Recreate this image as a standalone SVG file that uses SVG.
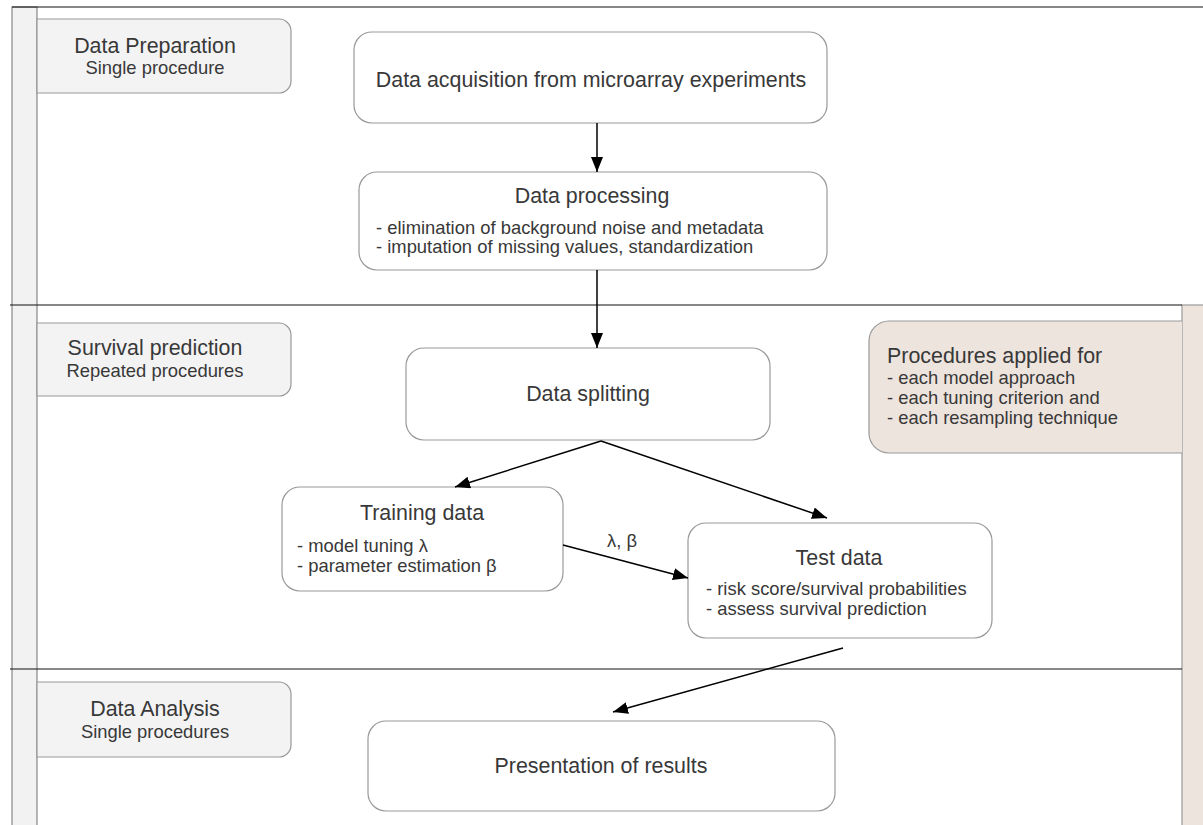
<svg xmlns="http://www.w3.org/2000/svg" width="1203" height="825" viewBox="0 0 1203 825">
<defs>
<style>
text{font-family:"Liberation Sans",Arial,sans-serif;fill:#383838}
.t{font-size:21.4px}
.s{font-size:18.4px}
.box{fill:#fff;stroke:#999;stroke-width:1.2}
.lab{fill:#f3f3f3;stroke:#999;stroke-width:1.2}
.sep{stroke:#111;stroke-width:1.2;fill:none}
.con{stroke:#000;stroke-width:1.5;fill:none}
</style>
<marker id="ah" viewBox="0 0 15 12" refX="15" refY="6" markerWidth="15" markerHeight="12" markerUnits="userSpaceOnUse" orient="auto">
<path d="M0,0 L15,6 L0,12 Z" fill="#000"/>
</marker>
</defs>
<rect width="1203" height="825" fill="#fff"/>
<g id="lanes">
<rect x="12" y="7" width="25" height="830" fill="#f2f2f2" stroke="#888" stroke-width="1.2"/>
<rect x="1182" y="305" width="30" height="530" fill="#ede4de" stroke="#999" stroke-width="1.2"/>
<line class="sep" x1="12" y1="7" x2="1203" y2="7"/>
<line class="sep" x1="10" y1="305" x2="1182" y2="305"/>
<line class="sep" x1="10" y1="669" x2="1182" y2="669"/>
</g>
<g id="label-prep">
<path class="lab" d="M37,19 H279 A12,12 0 0 1 291,31 V81 A12,12 0 0 1 279,93 H37 Z"/>
<text class="t" x="155" y="53" text-anchor="middle">Data Preparation</text>
<text class="s" x="155" y="74" text-anchor="middle">Single procedure</text>
</g>
<g id="label-surv">
<path class="lab" d="M37,323 H279 A12,12 0 0 1 291,335 V384 A12,12 0 0 1 279,396 H37 Z"/>
<text class="t" x="155" y="355" text-anchor="middle">Survival prediction</text>
<text class="s" x="155" y="377" text-anchor="middle">Repeated procedures</text>
</g>
<g id="label-anal">
<path class="lab" d="M37,682 H279 A12,12 0 0 1 291,694 V745 A12,12 0 0 1 279,757 H37 Z"/>
<text class="t" x="155" y="716" text-anchor="middle">Data Analysis</text>
<text class="s" x="155" y="738" text-anchor="middle">Single procedures</text>
</g>
<g id="procedures">
<path d="M1182,321 H889 A20,20 0 0 0 869,341 V433 A20,20 0 0 0 889,453 H1182" fill="#ede4de" stroke="#999" stroke-width="1.2"/>
<text class="t" x="887" y="363">Procedures applied for</text>
<text class="s" x="887" y="384">- each model approach</text>
<text class="s" x="887" y="404">- each tuning criterion and</text>
<text class="s" x="887" y="424">- each resampling technique</text>
</g>
<g id="acquisition">
<rect class="box" x="354" y="32" width="473" height="91" rx="18"/>
<text class="t" x="591" y="87" text-anchor="middle">Data acquisition from microarray experiments</text>
</g>
<g id="processing">
<rect class="box" x="359" y="172" width="468" height="98" rx="18"/>
<text class="t" x="592" y="203" text-anchor="middle">Data processing</text>
<text class="s" x="376" y="234">- elimination of background noise and metadata</text>
<text class="s" x="376" y="253">- imputation of missing values, standardization</text>
</g>
<g id="splitting">
<rect class="box" x="406" y="348" width="364" height="92" rx="18"/>
<text class="t" x="588" y="401" text-anchor="middle">Data splitting</text>
</g>
<g id="training">
<rect class="box" x="282" y="487" width="281" height="104" rx="18"/>
<text class="t" x="422" y="520" text-anchor="middle">Training data</text>
<text class="s" x="297" y="552">- model tuning λ</text>
<text class="s" x="297" y="572">- parameter estimation β</text>
</g>
<g id="test">
<rect class="box" x="688" y="523" width="304" height="115" rx="18"/>
<text class="t" x="839" y="565" text-anchor="middle">Test data</text>
<text class="s" x="706" y="595">- risk score/survival probabilities</text>
<text class="s" x="706" y="615">- assess survival prediction</text>
</g>
<g id="presentation">
<rect class="box" x="368" y="721" width="467" height="90" rx="18"/>
<text class="t" x="601" y="773" text-anchor="middle">Presentation of results</text>
</g>
<g id="connectors">
<line class="con" x1="597" y1="123" x2="597" y2="172" marker-end="url(#ah)"/>
<line class="con" x1="597" y1="270" x2="597" y2="348" marker-end="url(#ah)"/>
<line class="con" x1="601" y1="441" x2="455" y2="487" marker-end="url(#ah)"/>
<line class="con" x1="601" y1="441" x2="827" y2="518" marker-end="url(#ah)"/>
<line class="con" x1="563" y1="545" x2="688" y2="578" marker-end="url(#ah)"/>
<line class="con" x1="843" y1="648" x2="613" y2="712" marker-end="url(#ah)"/>
<text class="s" x="622" y="547" text-anchor="middle">λ, β</text>
</g>
</svg>
